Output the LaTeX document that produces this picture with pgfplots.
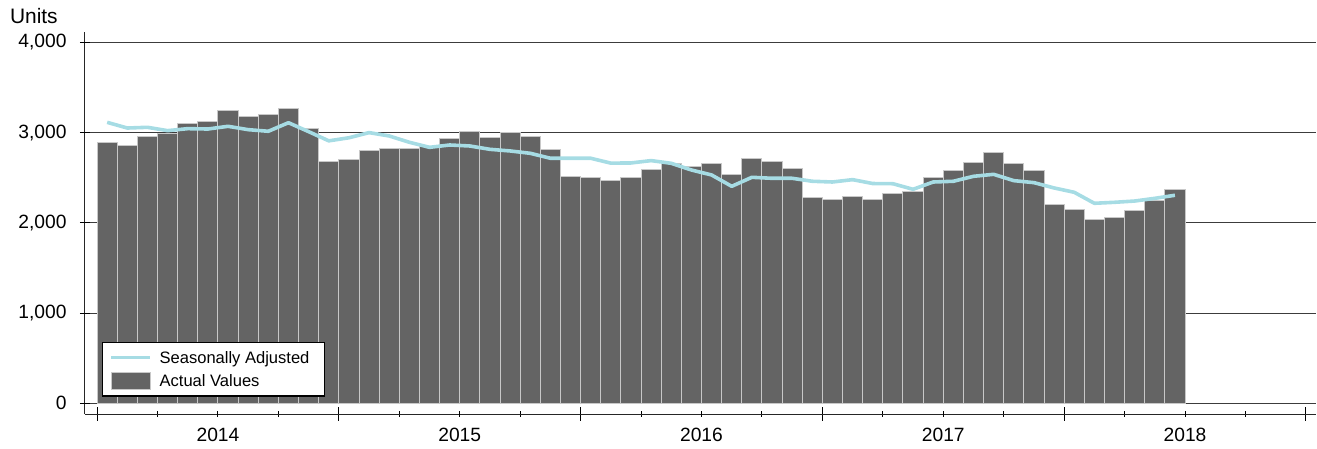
\documentclass[border=0pt]{standalone}
\usepackage{fontspec}
\setmainfont{Liberation Sans}
\usepackage{pgfplots}
\usepackage{pgfplotstable}
\pgfplotsset{compat=1.18}
\definecolor{barfill}{HTML}{646464}
\definecolor{baredge}{HTML}{C8C8C8}
\definecolor{salight}{HTML}{A6DCE4}
\definecolor{gridc}{HTML}{3C3C3C}

\pgfplotstableread{
m v
0 2892
1 2855
2 2958
3 2988
4 3102
5 3124
6 3246
7 3180
8 3202
9 3261
10 3050
11 2681
12 2705
13 2800
14 2825
15 2818
16 2845
17 2929
18 3010
19 2943
20 2995
21 2958
22 2807
23 2511
24 2504
25 2474
26 2504
27 2596
28 2659
29 2626
30 2659
31 2530
32 2707
33 2674
34 2600
35 2275
36 2253
37 2290
38 2260
39 2330
40 2345
41 2504
42 2581
43 2667
44 2774
45 2659
46 2581
47 2208
48 2149
49 2039
50 2057
51 2134
52 2245
53 2371
}\actual

\pgfplotstableread{
m v
0 3113
1 3050
2 3058
3 3021
4 3043
5 3039
6 3069
7 3032
8 3014
9 3109
10 3010
11 2908
12 2942
13 2999
14 2962
15 2892
16 2836
17 2862
18 2851
19 2814
20 2796
21 2770
22 2715
23 2715
24 2715
25 2661
26 2663
27 2689
28 2659
29 2585
30 2530
31 2404
32 2504
33 2493
34 2493
35 2460
36 2452
37 2478
38 2435
39 2433
40 2371
41 2452
42 2460
43 2515
44 2537
45 2467
46 2445
47 2386
48 2338
49 2216
50 2227
51 2241
52 2271
53 2305
}\seasonal

\begin{document}
\begin{tikzpicture}
\useasboundingbox (-85bp,-35bp) rectangle (1232bp,414bp);
\begin{axis}[
  at={(0,0)}, anchor=south west,
  scale only axis,
  width=1231bp, height=382bp,
  xmin=-0.6, xmax=60.5,
  ymin=-118.6, ymax=4114,
  axis lines*=left,
  axis line style={black!85, line width=1bp},
  tick align=center,
  tick style={black, line width=1bp},
  major tick length=14bp,
  minor tick length=6bp,
  xtick={0,12,24,36,48,60},
  xticklabels={},
  minor xtick={3,9,15,21,27,33,39,45,51,57},
  extra x ticks={6,18,30,42,54},
  extra x tick labels={2014,2015,2016,2017,2018},
  extra x tick style={major tick length=6bp},
  ytick=\empty,
  extra y ticks={0,1000,2000,3000,4000},
  extra y tick style={major tick length=10bp, grid=major},
  minor ytick={500,1500,2500,3500},
  /pgf/number format/.cd, 1000 sep={,}, assume math mode=true, /pgfplots/.cd,
  grid style={gridc, line width=0.9bp},
  every tick label/.append style={font=\fontsize{19.3}{21}\selectfont, black},
  xticklabel style={yshift=-8bp},
  yticklabel style={xshift=-10bp},
  reverse legend,
  legend style={at={(axis description cs:0.0135,0.0453)}, anchor=south west,
    draw=black, line width=1.2bp, font=\fontsize{16.6}{18}\selectfont,
    inner xsep=7.3bp, inner ysep=3.3bp, row sep=0bp, column sep=0bp,
    nodes={inner sep=0bp, text height=17.6bp, text depth=5.8bp},
    cells={anchor=west}},
]
\addplot[ybar, bar width=1, bar shift=0, fill=barfill, draw=baredge, line width=1bp,
  legend image code/.code={\path[draw=none, fill=none] (0bp,-11.7bp) rectangle (48.3bp,11.7bp);
    \filldraw[fill=barfill, draw=baredge, line width=0.8bp] (0bp,-8.35bp) rectangle (38.7bp,8.35bp);}]
  table[x expr=\thisrow{m}+0.5, y=v] {\actual};
\addlegendentry{Actual Values}
\addplot[salight, line width=3.6bp, line join=round,
  legend image code/.code={\path[draw=none, fill=none] (0bp,-11.7bp) rectangle (48.3bp,11.7bp);
    \draw[salight, line width=3.6bp] (0bp,0bp) -- (38.7bp,0bp);}]
  table[x expr=\thisrow{m}+0.5, y=v] {\seasonal};
\addlegendentry{Seasonally Adjusted\hspace*{7.7bp}}
\end{axis}
\node[anchor=base west, font=\fontsize{21}{23}\selectfont] at (-78.5bp,390bp) {Units};
\end{tikzpicture}
\end{document}
